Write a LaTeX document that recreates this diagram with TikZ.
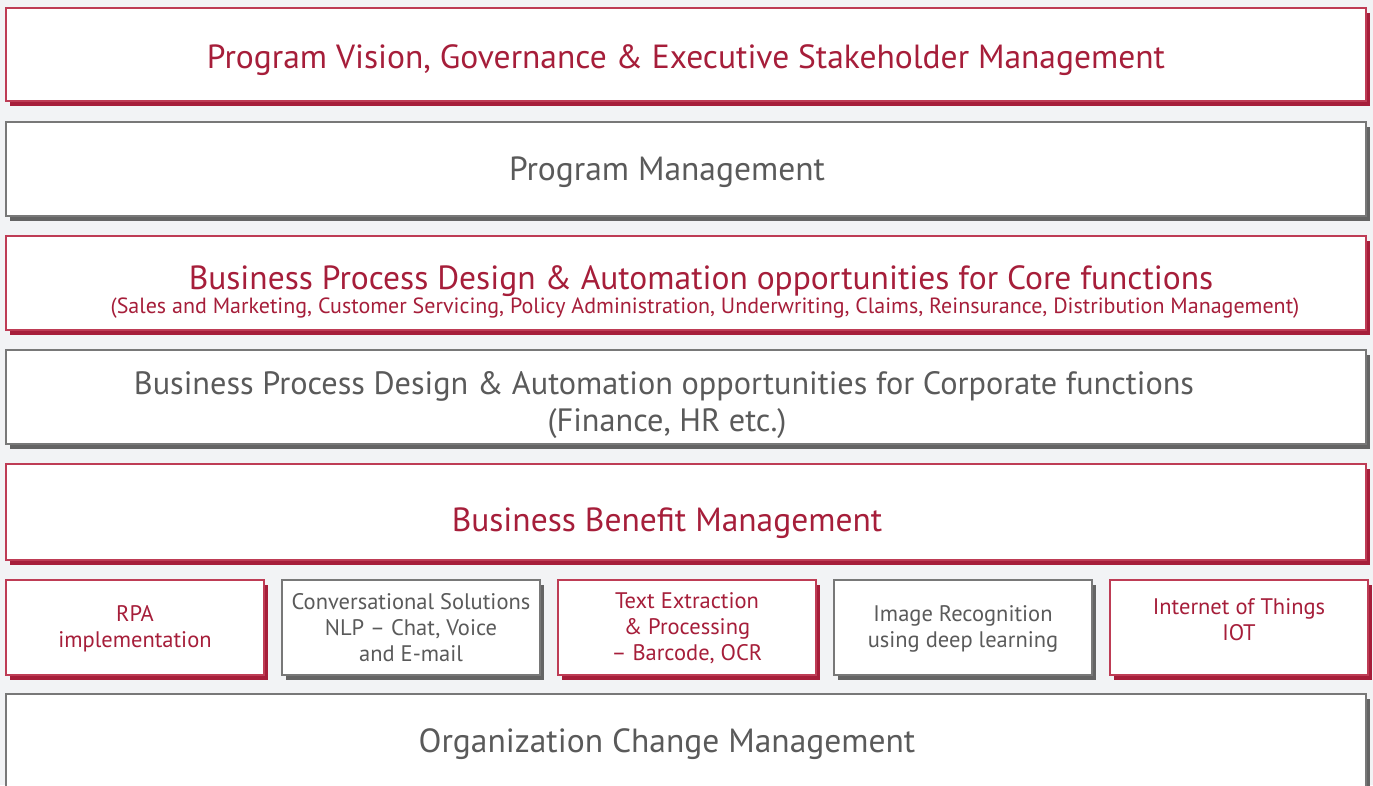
\documentclass[tikz,border=0pt]{standalone}
\usepackage{fontspec}
\setmainfont{PT Sans}
\usetikzlibrary{shadows}
\definecolor{bg}{RGB}{242,243,245}
\definecolor{myred}{RGB}{166,30,58}
\definecolor{redline}{RGB}{190,60,85}
\definecolor{mygray}{RGB}{90,90,90}
\definecolor{grayline}{RGB}{120,120,120}
\definecolor{grayshadow}{RGB}{100,100,100}
\begin{document}
\begin{tikzpicture}[x=1pt,y=-1pt,
  box/.style={draw, line width=1.2pt, fill=white, inner sep=0pt, align=center, minimum width=1360pt, text depth=8pt},
  redbox/.style={box, draw=redline, text=myred, drop shadow={shadow xshift=4pt, shadow yshift=-5pt, fill=myred, opacity=1}},
  graybox/.style={box, draw=grayline, text=mygray, drop shadow={shadow xshift=4pt, shadow yshift=-5pt, fill=grayshadow, opacity=1}},
  big/.style={font=\fontsize{33.5}{37}\selectfont},
  small/.style={font=\fontsize{22.5}{26}\selectfont, minimum width=258pt, minimum height=95pt}]
\fill[bg] (0,0) rectangle (1373,785);
\useasboundingbox (0,0) rectangle (1373,785);
\begin{scope}
\clip (0,0) rectangle (1373,785);
\node[redbox, big, minimum height=93pt, text height=35pt] (vision) at (686,54.5) {Program Vision, Governance \& Executive Stakeholder Management};
\node[graybox, big, minimum height=94pt, text height=30pt] (pm) at (686,169) {Program Management\hspace*{38pt}};
\node[redbox, minimum height=94pt, text height=68pt] (core) at (686,283) {{\fontsize{33.5}{27}\selectfont \hspace*{30pt}Business Process Design \& Automation opportunities for Core functions}\\{\fontsize{22}{27}\selectfont \hspace*{38pt}(Sales and Marketing, Customer Servicing, Policy Administration, Underwriting, Claims, Reinsurance, Distribution Management)}};
\node[graybox, font=\fontsize{32.3}{37}\selectfont, minimum height=94pt, text height=76pt] (corp) at (686,397) {Business Process Design \& Automation opportunities for Corporate functions\hspace*{44pt}\\(Finance, HR etc.)\hspace*{38pt}};
\node[redbox, big, minimum height=96pt, text height=46pt] (benefit) at (686,512) {Business Benefit Management\hspace*{38pt}};
\node[redbox, small, text height=47pt] (rpa) at (135,627.5) {RPA\\implementation};
\node[graybox, small, text height=75pt] (conv) at (411,627.5) {Conversational Solutions\\NLP -- Chat, Voice\\and E-mail};
\node[redbox, small, text height=73pt] (text) at (687,627.5) {Text Extraction\\\& Processing\\-- Barcode, OCR};
\node[graybox, small, text height=47pt] (image) at (963,627.5) {Image Recognition\\using deep learning};
\node[redbox, small, text height=33pt] (iot) at (1239,627.5) {Internet of Things\\IOT};
\node[graybox, big, minimum height=96pt, text height=28pt] (ocm) at (686,742) {Organization Change Management\hspace*{38pt}};
\end{scope}
\end{tikzpicture}
\end{document}
